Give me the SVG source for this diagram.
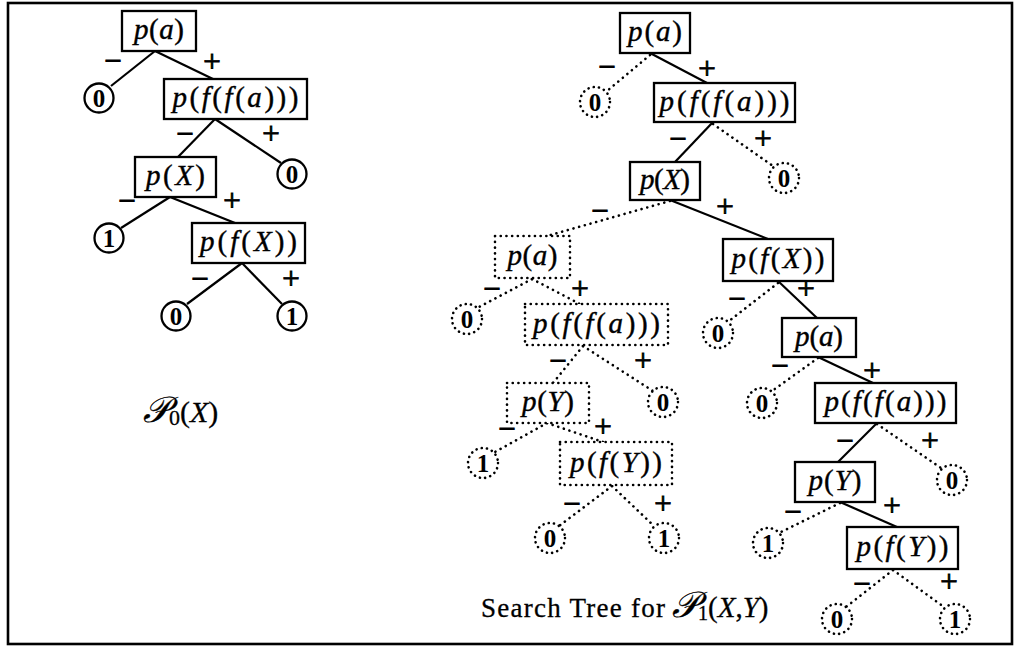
<svg xmlns="http://www.w3.org/2000/svg" width="1017" height="649" viewBox="0 0 1017 649">
<style>
.frame{fill:none;stroke:#000;stroke-width:2.6}
.box{fill:#fff;stroke:#000;stroke-width:2.3}
.dbox{fill:#fff;stroke:#000;stroke-width:2.6;stroke-dasharray:0.1 5.6;stroke-linecap:round}
.cir{fill:#fff;stroke:#000;stroke-width:2.3}
.dcir{fill:#fff;stroke:#000;stroke-width:2.6;stroke-dasharray:0.1 5.2;stroke-linecap:round}
.e{stroke:#000;stroke-width:2.2;fill:none}
.d{stroke:#000;stroke-width:2.6;fill:none;stroke-dasharray:0.1 5.8;stroke-linecap:round}
.t{font-family:"Liberation Serif",serif;font-size:29px;text-anchor:middle;fill:#000;stroke:#000;stroke-width:0.4}
.i{font-style:italic}
.n{font-family:"Liberation Serif",serif;font-size:25px;font-weight:bold;text-anchor:middle;fill:#000}
.s{font-family:"Liberation Serif",serif;font-size:31px;text-anchor:middle;fill:#000;stroke:#000;stroke-width:0.9}
.cap{font-family:"Liberation Serif",serif;font-size:27px;fill:#000;stroke:#000;stroke-width:0.3}
</style>
<rect class="frame" x="8" y="3" width="1004" height="641"/>
<g id="connectors">
<line class="e" x1="155" y1="51" x2="111" y2="86"/>
<line class="e" x1="155" y1="51" x2="213" y2="79"/>
<line class="e" x1="215" y1="119" x2="178" y2="157"/>
<line class="e" x1="215" y1="119" x2="281" y2="163"/>
<line class="e" x1="170" y1="197" x2="121" y2="228"/>
<line class="e" x1="170" y1="197" x2="235" y2="223"/>
<line class="e" x1="242" y1="263" x2="187" y2="304"/>
<line class="e" x1="242" y1="263" x2="282" y2="304"/>
<line class="d" x1="650" y1="55" x2="607" y2="91"/>
<line class="e" x1="650" y1="53" x2="707" y2="83"/>
<line class="e" x1="713" y1="122" x2="675" y2="162"/>
<line class="d" x1="713" y1="124" x2="773" y2="166"/>
<line class="d" x1="670" y1="201" x2="547" y2="236"/>
<line class="e" x1="670" y1="200" x2="768" y2="239"/>
<line class="d" x1="532" y1="279" x2="477" y2="308"/>
<line class="d" x1="532" y1="279" x2="580" y2="304"/>
<line class="d" x1="778" y1="283" x2="729" y2="321"/>
<line class="e" x1="778" y1="281" x2="817" y2="318"/>
<line class="d" x1="583" y1="346" x2="553" y2="383"/>
<line class="d" x1="583" y1="346" x2="653" y2="391"/>
<line class="d" x1="818" y1="358" x2="772" y2="391"/>
<line class="e" x1="818" y1="357" x2="873" y2="383"/>
<line class="d" x1="547" y1="423" x2="495" y2="452"/>
<line class="d" x1="547" y1="423" x2="603" y2="442"/>
<line class="e" x1="877" y1="423" x2="838" y2="462"/>
<line class="d" x1="877" y1="424" x2="941" y2="468"/>
<line class="d" x1="612" y1="486" x2="559" y2="526"/>
<line class="d" x1="612" y1="486" x2="654" y2="526"/>
<line class="d" x1="840" y1="503" x2="779" y2="533"/>
<line class="e" x1="840" y1="502" x2="897" y2="527"/>
<line class="d" x1="893" y1="570" x2="846" y2="607"/>
<line class="d" x1="893" y1="570" x2="944" y2="607"/>
<g class="s">
<text x="113" y="71">−</text><text x="212" y="72">+</text>
<text x="185" y="144">−</text><text x="271" y="144">+</text>
<text x="127" y="211">−</text><text x="232" y="211">+</text>
<text x="200" y="289">−</text><text x="291" y="289">+</text>
<text x="607" y="77">−</text><text x="707" y="79">+</text>
<text x="678" y="149">−</text><text x="763" y="149">+</text>
<text x="600" y="221">−</text><text x="725" y="217">+</text>
<text x="492" y="299">−</text><text x="580" y="299">+</text>
<text x="737" y="309">−</text><text x="806" y="299">+</text>
<text x="558" y="371">−</text><text x="643" y="371">+</text>
<text x="780" y="376">−</text><text x="872" y="381">+</text>
<text x="507" y="439">−</text><text x="603" y="437">+</text>
<text x="845" y="451">−</text><text x="930" y="451">+</text>
<text x="572" y="514">−</text><text x="663" y="514">+</text>
<text x="793" y="522">−</text><text x="892" y="516">+</text>
<text x="862" y="594">−</text><text x="949" y="592">+</text>
</g>
</g>
<g id="L1"><rect class="box" x="122" y="11" width="74" height="40"/><text class="t" x="159" y="39" textLength="50"><tspan class="i">p</tspan>(<tspan class="i">a</tspan>)</text></g>
<g id="L2"><circle class="cir" cx="99" cy="98" r="14.5"/><text class="n" x="99" y="106.5">0</text></g>
<g id="L3"><rect class="box" x="164" y="79" width="143" height="40"/><text class="t" x="235.5" y="107" textLength="126"><tspan class="i">p</tspan>(<tspan class="i">f</tspan>(<tspan class="i">f</tspan>(<tspan class="i">a</tspan>)))</text></g>
<g id="L4"><rect class="box" x="135" y="157" width="81" height="40"/><text class="t" x="175.5" y="185" textLength="59"><tspan class="i">p</tspan>(<tspan class="i">X</tspan>)</text></g>
<g id="L5"><circle class="cir" cx="292" cy="174" r="14.5"/><text class="n" x="292" y="182.5">0</text></g>
<g id="L6"><circle class="cir" cx="109" cy="238" r="14.5"/><text class="n" x="109" y="246.5">1</text></g>
<g id="L7"><rect class="box" x="192" y="223" width="113" height="40"/><text class="t" x="248.5" y="251" textLength="97"><tspan class="i">p</tspan>(<tspan class="i">f</tspan>(<tspan class="i">X</tspan>))</text></g>
<g id="L8"><circle class="cir" cx="176" cy="316" r="14.5"/><text class="n" x="176" y="324.5">0</text></g>
<g id="L9"><circle class="cir" cx="292" cy="316" r="14.5"/><text class="n" x="292" y="324.5">1</text></g>
<g id="cap0"><text class="cap" x="143" y="422"><tspan font-size="36" font-style="italic">𝒫</tspan><tspan font-size="22" dy="3">0</tspan><tspan font-size="30" dy="-3">(</tspan><tspan font-size="30" font-style="italic">X</tspan><tspan font-size="30">)</tspan></text></g>
<g id="R1"><rect class="box" x="620" y="13" width="70" height="40"/><text class="t" x="655" y="41" textLength="54"><tspan class="i">p</tspan>(<tspan class="i">a</tspan>)</text></g>
<g id="R2"><circle class="dcir" cx="595" cy="102" r="15"/><text class="n" x="595" y="110.5">0</text></g>
<g id="R3"><rect class="box" x="654" y="83" width="141" height="39"/><text class="t" x="724.5" y="110.5" textLength="130"><tspan class="i">p</tspan>(<tspan class="i">f</tspan>(<tspan class="i">f</tspan>(<tspan class="i">a</tspan>)))</text></g>
<g id="R4"><rect class="box" x="630" y="162" width="70" height="38"/><text class="t" x="665" y="189" textLength="50"><tspan class="i">p</tspan>(<tspan class="i">X</tspan>)</text></g>
<g id="R5"><circle class="dcir" cx="784" cy="178" r="15"/><text class="n" x="784" y="186.5">0</text></g>
<g id="R6"><rect class="dbox" x="495" y="236" width="75" height="42"/><text class="t" x="532.5" y="265" textLength="50"><tspan class="i">p</tspan>(<tspan class="i">a</tspan>)</text></g>
<g id="R7"><rect class="box" x="723" y="239" width="110" height="42"/><text class="t" x="778" y="268" textLength="93"><tspan class="i">p</tspan>(<tspan class="i">f</tspan>(<tspan class="i">X</tspan>))</text></g>
<g id="R8"><circle class="dcir" cx="467" cy="319" r="15"/><text class="n" x="467" y="327.5">0</text></g>
<g id="R9"><rect class="dbox" x="525" y="304" width="143" height="41"/><text class="t" x="596.5" y="332.5" textLength="127"><tspan class="i">p</tspan>(<tspan class="i">f</tspan>(<tspan class="i">f</tspan>(<tspan class="i">a</tspan>)))</text></g>
<g id="R10"><circle class="dcir" cx="718" cy="333" r="15"/><text class="n" x="718" y="341.5">0</text></g>
<g id="R11"><rect class="box" x="782" y="318" width="74" height="39"/><text class="t" x="819" y="345.5" textLength="48"><tspan class="i">p</tspan>(<tspan class="i">a</tspan>)</text></g>
<g id="R12"><circle class="dcir" cx="663" cy="402" r="15"/><text class="n" x="663" y="410.5">0</text></g>
<g id="R13"><circle class="dcir" cx="762" cy="403" r="15"/><text class="n" x="762" y="411.5">0</text></g>
<g id="R14"><rect class="dbox" x="507" y="383" width="82" height="40"/><text class="t" x="548" y="411" textLength="52"><tspan class="i">p</tspan>(<tspan class="i">Y</tspan>)</text></g>
<g id="R15"><rect class="box" x="815" y="383" width="141" height="40"/><text class="t" x="885.5" y="411" textLength="122"><tspan class="i">p</tspan>(<tspan class="i">f</tspan>(<tspan class="i">f</tspan>(<tspan class="i">a</tspan>)))</text></g>
<g id="R16"><circle class="dcir" cx="483" cy="463" r="15"/><text class="n" x="483" y="471.5">1</text></g>
<g id="R17"><rect class="dbox" x="560" y="442" width="112" height="43"/><text class="t" x="616" y="471.5" textLength="92"><tspan class="i">p</tspan>(<tspan class="i">f</tspan>(<tspan class="i">Y</tspan>))</text></g>
<g id="R18"><circle class="dcir" cx="952" cy="480" r="15"/><text class="n" x="952" y="488.5">0</text></g>
<g id="R19"><rect class="box" x="795" y="462" width="80" height="40"/><text class="t" x="835" y="490" textLength="53"><tspan class="i">p</tspan>(<tspan class="i">Y</tspan>)</text></g>
<g id="R20"><circle class="dcir" cx="550" cy="538" r="15"/><text class="n" x="550" y="546.5">0</text></g>
<g id="R21"><circle class="dcir" cx="664" cy="538" r="15"/><text class="n" x="664" y="546.5">1</text></g>
<g id="R22"><circle class="dcir" cx="768" cy="543" r="15"/><text class="n" x="768" y="551.5">1</text></g>
<g id="R23"><rect class="box" x="847" y="527" width="111" height="42"/><text class="t" x="902.5" y="556" textLength="92"><tspan class="i">p</tspan>(<tspan class="i">f</tspan>(<tspan class="i">Y</tspan>))</text></g>
<g id="R24"><circle class="dcir" cx="837" cy="619" r="15"/><text class="n" x="837" y="627.5">0</text></g>
<g id="R25"><circle class="dcir" cx="955" cy="619" r="15"/><text class="n" x="955" y="627.5">1</text></g>
<g id="cap1"><text class="cap" x="481" y="617"><tspan textLength="184">Search Tree for</tspan><tspan x="672" font-size="36" font-style="italic">𝒫</tspan><tspan font-size="20" dy="3">1</tspan><tspan font-size="29" dy="-3">(</tspan><tspan font-size="29" font-style="italic">X</tspan><tspan font-size="29">,</tspan><tspan font-size="29" font-style="italic">Y</tspan><tspan font-size="29">)</tspan></text></g>
</svg>
